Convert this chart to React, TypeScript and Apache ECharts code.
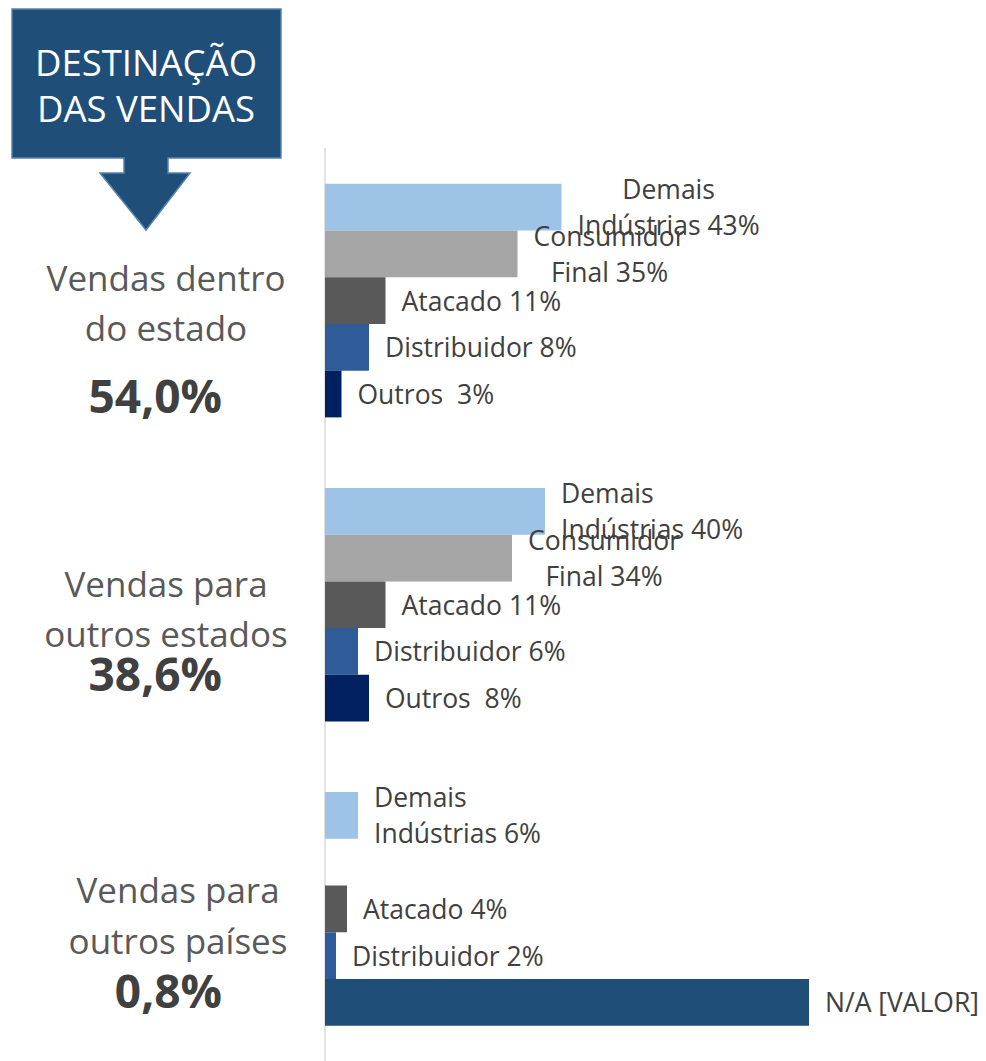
import React, { useEffect, useRef } from 'react';
import * as echarts from 'echarts';

const categories = ['Vendas dentro do estado', 'Vendas para outros estados', 'Vendas para outros países'];
const demaisIndustrias: (number | null)[] = [43, 40, 6];
const consumidorFinal: (number | null)[] = [35, 34, null];
const atacado: (number | null)[] = [11, 11, 4];
const distribuidor: (number | null)[] = [8, 6, 2];
const outros: (number | null)[] = [3, 8, 88]; // last one is the "N/A" bar
const groupTitles = [
  ['Vendas dentro', 'do estado'],
  ['Vendas para', 'outros estados'],
  ['Vendas para', 'outros países'],
];
const groupTotals = ['54,0%', '38,6%', '0,8%'];

const LABEL_FONT = 'Open Sans';
const LABEL_SIZE = 26.5;

function item(v: number | null, lines: string[], align: 'center' | 'left', extra: any = {}) {
  if (v == null) return { value: null, label: { show: false } };
  const tag = align === 'center' ? 'c' : 'l';
  return {
    value: v,
    label: { formatter: lines.map((l) => `{${tag}|${l}}`).join('\n') },
    ...extra,
  };
}

export default function App() {
  const ref = useRef<HTMLDivElement>(null);
  useEffect(() => {
    document.body.style.margin = '0';
    const chart = echarts.init(ref.current!, null, { renderer: 'svg' });
    const richBase = { fontFamily: LABEL_FONT, fontSize: LABEL_SIZE, color: '#404040', lineHeight: 36 };
    const label = {
      show: true,
      position: 'right',
      distance: 16,
      rich: { c: { ...richBase, align: 'center' }, l: { ...richBase, align: 'left' } },
    };
    const demaisAlign: ('center' | 'left')[] = ['center', 'left', 'left'];
    const series: any[] = [
      {
        name: 'Demais Indústrias',
        color: '#9DC3E6',
        data: demaisIndustrias.map((v, i) => item(v, ['Demais', `Indústrias ${v}%`], demaisAlign[i])),
      },
      {
        name: 'Consumidor Final',
        color: '#A5A5A5',
        data: consumidorFinal.map((v) => item(v, ['Consumidor', `Final ${v}%`], 'center')),
      },
      {
        name: 'Atacado',
        color: '#595959',
        data: atacado.map((v) => item(v, [`Atacado ${v}%`], 'left')),
      },
      {
        name: 'Distribuidor',
        color: '#2F5C99',
        data: distribuidor.map((v) => item(v, [`Distribuidor ${v}%`], 'left')),
      },
      {
        name: 'Outros',
        color: '#002060',
        data: outros.map((v, i) =>
          i === 2
            ? item(v, ['N/A [VALOR]'], 'left', { itemStyle: { color: '#1F4E79' } })
            : item(v, [`Outros  ${v}%`], 'left')
        ),
      },
    ].map((s) => ({
      type: 'bar',
      name: s.name,
      data: s.data,
      itemStyle: { color: s.color },
      barGap: 0,
      barCategoryGap: '23.2%',
      label,
    }));

    const titleStyle = { fontFamily: LABEL_FONT, fontSize: 35, fill: '#595959' };
    const totalStyle = { fontFamily: LABEL_FONT, fontSize: 46, fontWeight: 'bold', fill: '#404040' };
    const titleX = [166, 166, 178];
    const titleY = [[277, 327], [583, 633], [889, 940]];
    const totalY = [395, 673, 990];
    const graphics: any[] = [
      {
        type: 'polygon',
        shape: {
          points: [
            [12, 9], [281, 9], [281, 158], [168, 158], [168, 173], [190, 173],
            [146, 230], [100, 173], [124, 173], [124, 158], [12, 158],
          ],
        },
        style: { fill: '#1F4E79', stroke: '#5582B0', lineWidth: 1.5 },
      },
      {
        type: 'text',
        x: 146, y: 62,
        style: { text: 'DESTINAÇÃO', fontFamily: LABEL_FONT, fontSize: 36.5, fill: '#FFFFFF', align: 'center', verticalAlign: 'middle' },
      },
      {
        type: 'text',
        x: 146, y: 108,
        style: { text: 'DAS VENDAS', fontFamily: LABEL_FONT, fontSize: 36.5, fill: '#FFFFFF', align: 'center', verticalAlign: 'middle' },
      },
    ];
    groupTitles.forEach((lines, g) => {
      lines.forEach((t, k) => {
        graphics.push({
          type: 'text', x: titleX[g], y: titleY[g][k],
          style: { ...titleStyle, text: t, align: 'center', verticalAlign: 'middle' },
        });
      });
      graphics.push({
        type: 'text', x: 222, y: totalY[g],
        style: { ...totalStyle, text: groupTotals[g], align: 'right', verticalAlign: 'middle' },
      });
    });

    chart.setOption({
      animation: false,
      grid: { left: 325, top: 148.5, width: 550, height: 918 },
      xAxis: { type: 'value', min: 0, max: 100, show: false, splitLine: { show: false } },
      yAxis: {
        type: 'category',
        data: categories,
        inverse: true,
        axisLine: { show: true, lineStyle: { color: '#D9D9D9', width: 1.5 } },
        axisTick: { show: false },
        axisLabel: { show: false },
      },
      series,
      graphic: graphics,
    });
    return () => chart.dispose();
  }, []);
  return <div ref={ref} style={{ width: 986, height: 1061 }} />;
}
